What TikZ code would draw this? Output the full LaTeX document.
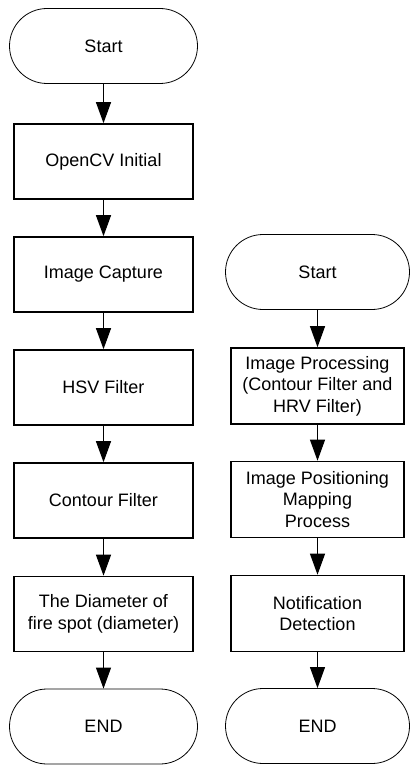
\documentclass[tikz,border=0pt]{standalone}
\usepackage{fontspec}
\setmainfont{Liberation Sans}
\usetikzlibrary{arrows.meta}
\begin{document}
\begin{tikzpicture}[x=1pt,y=-1pt,
  txt/.style={font=\fontsize{18}{21.5}\selectfont, align=center, inner sep=0pt},
  stepbox/.style={txt, draw, line width=1.6pt, minimum height=75pt},
  term/.style={txt, draw, line width=0.8pt, rounded corners=37.5pt, minimum height=75pt},
  flow/.style={line width=1pt, -{Triangle[width=15pt,length=21pt]}}]
\useasboundingbox (0,0) rectangle (410,765);

% left flow
\node[term, minimum width=188pt] (l0) at (103.5,46) {Start};
\node[stepbox, minimum width=179pt] (l1) at (103.5,161.5) {OpenCV Initial};
\node[stepbox, minimum width=179pt] (l2) at (103.5,274.5) {Image Capture};
\node[stepbox, minimum width=179pt] (l3) at (103.5,387.5) {HSV Filter};
\node[stepbox, minimum width=179pt] (l4) at (103.5,500.5) {Contour Filter};
\node[stepbox, minimum width=179pt] (l5) at (103.5,614) {The Diameter of\\fire spot (diameter)};
\node[term, minimum width=188pt] (l6) at (103.5,726.5) {END};

% right flow
\node[term, minimum width=184pt] (r0) at (317.5,272) {Start};
\node[stepbox, minimum width=173pt, minimum height=76pt] (r1) at (317.5,386) {Image Processing\\(Contour Filter and\\HRV Filter)};
\node[stepbox, minimum width=173pt, minimum height=76pt] (r2) at (317.5,499.5) {Image Positioning\\Mapping\\Process};
\node[stepbox, minimum width=173pt, minimum height=76pt] (r3) at (317.5,613.5) {Notification\\Detection};
\node[term, minimum width=184pt] (r4) at (317.5,726) {END};

\foreach \a/\b in {l0/l1,l1/l2,l2/l3,l3/l4,l4/l5,l5/l6,r0/r1,r1/r2,r2/r3,r3/r4}
  \draw[flow] (\a.south) -- (\b.north);
\end{tikzpicture}
\end{document}
